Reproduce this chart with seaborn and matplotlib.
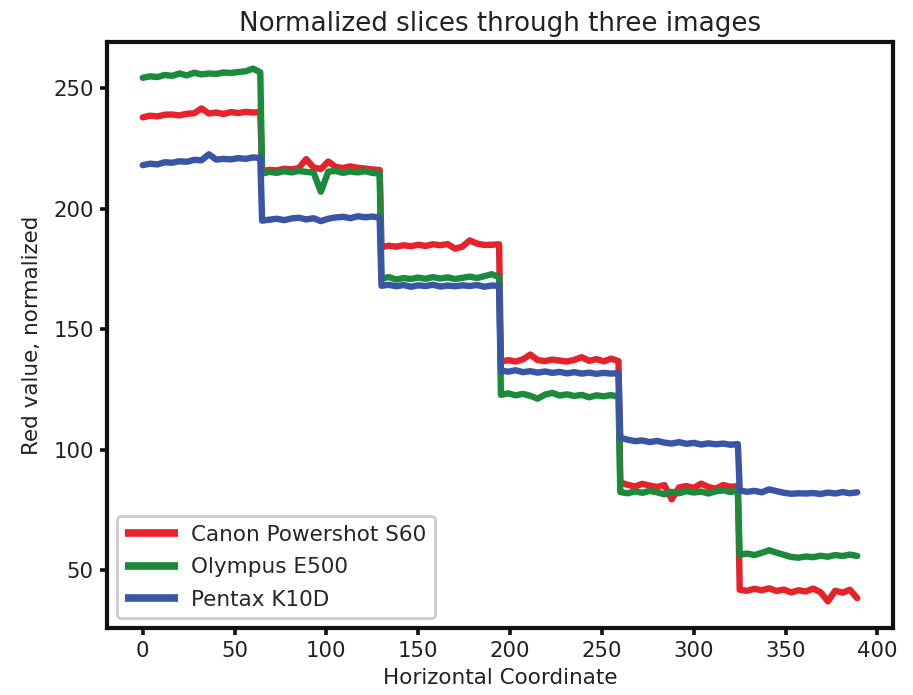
import numpy as np
import pandas as pd
import matplotlib
matplotlib.use("Agg")
import matplotlib.pyplot as plt
import seaborn as sns

# ---- data ----
segment_starts = [0, 65, 130, 195, 260, 325]
offsets = [0, 4, 8, 12, 16, 20, 24, 28, 32, 36, 40, 44, 48, 52, 56, 60, 64]
x_coord = [s + o for s in segment_starts for o in offsets]

canon = [
    237.8, 238.5, 238.2, 238.9, 239.0, 238.6, 239.3, 239.5, 241.5, 239.4, 239.8, 239.2, 240.0, 239.6, 240.1, 239.8, 240.0,
    215.5, 216.0, 215.8, 216.5, 216.2, 216.8, 220.5, 217.0, 216.4, 219.5, 217.3, 216.8, 217.5, 216.9, 216.6, 216.2, 216.0,
    184.0, 184.6, 184.2, 184.8, 184.4, 185.0, 184.5, 185.2, 184.8, 185.3, 183.4, 184.2, 186.8, 185.5, 184.9, 185.0, 185.2,
    136.5, 137.2, 136.6, 137.5, 139.5, 137.2, 136.8, 137.4, 137.0, 136.6, 137.3, 138.4, 136.9, 137.6, 136.7, 137.8, 136.8,
    86.5, 85.5, 84.8, 85.9, 85.2, 84.6, 85.4, 79.5, 84.4, 85.0, 84.2, 86.0, 84.6, 83.9, 85.4, 84.7, 84.9,
    42.0, 41.6, 42.4, 41.8, 42.6, 41.5, 42.1, 40.9, 41.8, 41.3, 42.5, 41.0, 37.2, 41.6, 40.8, 42.0, 38.5,
]
olympus = [
    254.2, 254.8, 254.5, 255.4, 255.0, 256.0, 255.2, 256.3, 255.6, 256.0, 255.8, 256.4, 256.2, 256.6, 256.9, 258.0, 256.5,
    214.5, 215.2, 214.8, 215.5, 215.0, 215.6, 215.2, 214.9, 207.0, 215.3, 215.6, 214.8, 215.4, 215.0, 215.5, 214.8, 214.5,
    171.0, 171.6, 170.6, 171.2, 170.8, 171.4, 170.9, 171.6, 171.0, 171.5, 170.8, 171.3, 171.8, 171.2, 172.0, 172.8, 171.6,
    122.8, 123.4, 122.6, 123.2, 122.4, 121.2, 122.9, 123.6, 122.5, 123.0, 122.3, 122.8, 121.8, 122.6, 122.2, 122.7, 122.0,
    82.5, 82.0, 82.8, 82.2, 83.0, 82.4, 81.6, 82.6, 82.0, 82.9, 82.3, 82.7, 81.9, 82.8, 83.2, 82.5, 83.3,
    56.5, 57.0, 56.4, 57.3, 58.4, 57.4, 56.5, 55.6, 55.3, 55.8, 55.5, 56.1, 55.7, 56.4, 56.0, 56.6, 56.0,
]
pentax = [
    218.0, 218.6, 218.3, 219.2, 219.0, 219.6, 219.4, 220.2, 220.0, 222.5, 220.3, 220.6, 220.4, 220.9, 220.6, 221.2, 221.0,
    195.0, 195.4, 195.8, 195.2, 195.9, 196.2, 195.5, 196.0, 194.8, 195.8, 196.3, 196.6, 196.0, 196.8, 196.4, 196.7, 196.2,
    168.0, 168.4, 167.8, 168.3, 167.6, 168.2, 167.9, 168.4, 167.7, 168.1, 167.8, 168.2, 167.9, 168.3, 167.6, 168.1, 168.0,
    132.8, 132.4, 133.0, 132.2, 132.6, 132.0, 132.5, 131.9, 132.3, 131.7, 132.2, 131.6, 132.0, 131.5, 131.9, 131.6, 131.8,
    105.0, 104.2, 103.6, 103.9, 103.2, 103.7, 103.0, 102.6, 103.2, 102.5, 102.9, 102.2, 102.7, 102.3, 102.6, 102.1, 102.4,
    83.2, 82.6, 83.0, 82.4, 83.6, 82.9, 82.2, 81.8, 82.0, 81.9, 82.1, 81.7, 82.3, 81.9, 82.5, 82.0, 82.4,
]
cameras = ["Canon Powershot S60", "Olympus E500", "Pentax K10D"]
colors = ["#e6222a", "#1b8a3c", "#3a55a6"]

df = pd.concat([
    pd.DataFrame({"x": x_coord, "y": vals, "camera": name})
    for name, vals in zip(cameras, [canon, olympus, pentax])
], ignore_index=True)

# ---- style ----
sns.set_style("ticks")
plt.rcParams["font.family"] = ["DejaVu Sans"]

fig = plt.figure(figsize=(9.13, 6.95), dpi=100)
ax = fig.add_axes([107 / 913, 1 - 628 / 695, (893 - 107) / 913, (628 - 42) / 695])

sns.lineplot(data=df, x="x", y="y", hue="camera", palette=colors,
             estimator=None, sort=False, linewidth=4.6, ax=ax)

ax.set_title("Normalized slices through three images", fontsize=18.8, color="#222222", pad=8)
ax.set_xlabel("Horizontal Coordinate", fontsize=15.5, color="#222222", labelpad=5)
ax.set_ylabel("Red value, normalized", fontsize=15.5, color="#222222", labelpad=8)

ax.set_xticks([0, 50, 100, 150, 200, 250, 300, 350, 400])
ax.set_yticks([50, 100, 150, 200, 250])
ax.tick_params(axis="both", labelsize=15.3, length=5, width=2.6, pad=4.5,
               colors="#111111", labelcolor="#222222")

for sp in ax.spines.values():
    sp.set_visible(True)
    sp.set_linewidth(3)
    sp.set_color("#111111")

leg = ax.legend(loc="lower left", fontsize=15.5, handlelength=2.45, handletextpad=0.6,
                borderaxespad=0.45, labelspacing=0.58, frameon=True, fancybox=True,
                framealpha=1.0)
leg.get_frame().set_edgecolor("#cccccc")
leg.get_frame().set_linewidth(2)
for line in leg.get_lines():
    line.set_linewidth(5.5)
    line.set_solid_capstyle("butt")

fig.savefig("out.png", dpi=100)
